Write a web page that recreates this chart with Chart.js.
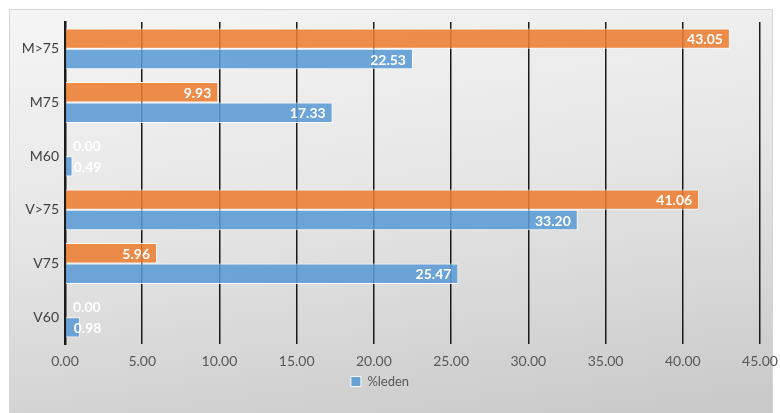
<!DOCTYPE html>
<html>
<head>
<meta charset="utf-8">
<script src="https://cdn.jsdelivr.net/npm/chart.js@4/dist/chart.umd.min.js"></script>
<style>
  html, body { margin: 0; padding: 0; background: #ffffff; }
  #wrap { position: relative; width: 780px; height: 413px; overflow: hidden; }
  #bg { position: absolute; left: 9px; top: 9px; width: 762px; height: 404px;
        background: linear-gradient(172deg, #f5f5f5 0%, #e6e6e6 45%, #c8c8c8 100%);
        border-left: 1px solid #d6d6d6; border-top: 1px solid #d6d6d6; border-right: 1px solid #d6d6d6; }
  #c { position: absolute; left: 0; top: 0; }
</style>
</head>
<body>
<div id="wrap">
  <div id="bg"></div>
  <canvas id="c" width="780" height="413"></canvas>
</div>
<script>
const categories = ["M>75", "M75", "M60", "V>75", "V75", "V60"];
const seriesOrangeLabel = "%bijdrage";
const seriesOrange = [43.05, 9.93, 0.00, 41.06, 5.96, 0.00];
const seriesBlueLabel = "%leden";
const seriesBlue = [22.53, 17.33, 0.49, 33.20, 25.47, 0.98];
const xTicks = [0, 5, 10, 15, 20, 25, 30, 35, 40, 45];

const FONT = "Lato, 'Open Sans', sans-serif";

const valueLabels = {
  id: 'valueLabels',
  afterDatasetsDraw(chart) {
    const ctx = chart.ctx;
    ctx.save();
    ctx.font = "bold 14px " + FONT;
    ctx.fillStyle = "#ffffff";
    ctx.textBaseline = "middle";
    chart.data.datasets.forEach((ds, di) => {
      const meta = chart.getDatasetMeta(di);
      meta.data.forEach((el, i) => {
        const txt = Number(ds.data[i]).toFixed(2);
        const w = ctx.measureText(txt).width;
        const barW = el.x - el.base;
        if (barW > w + 14) {
          ctx.textAlign = "right";
          ctx.fillText(txt, el.x - 7, el.y + 1);
        } else {
          ctx.textAlign = "left";
          ctx.fillText(txt, el.base + 8, el.y + 1);
        }
      });
    });
    ctx.restore();
  }
};

new Chart(document.getElementById('c'), {
  type: 'bar',
  data: {
    labels: categories,
    datasets: [
      { label: seriesOrangeLabel, data: seriesOrange,
        backgroundColor: 'rgba(237,125,49,0.88)', borderColor: 'rgba(255,255,255,0.9)', borderWidth: 1 },
      { label: seriesBlueLabel, data: seriesBlue,
        backgroundColor: 'rgba(91,155,213,0.88)', borderColor: 'rgba(255,255,255,0.9)', borderWidth: 1 }
    ]
  },
  options: {
    indexAxis: 'y',
    responsive: false,
    animation: false,
    layout: { padding: { left: 0, right: 20, top: 22, bottom: 15 } },
    datasets: { bar: { categoryPercentage: 0.76, barPercentage: 1.0 } },
    scales: {
      x: {
        min: 0, max: 45,
        afterBuildTicks(scale) { scale.ticks = xTicks.map(v => ({ value: v })); },
        ticks: { callback: v => Number(v).toFixed(2), color: '#595959', font: { family: FONT, size: 14 }, padding: 9 },
        grid: { color: '#1a1a1a', lineWidth: 1.5, drawTicks: false },
        border: { display: false },
        afterFit(scale) { scale.height = 27; scale.paddingRight = 0; scale.paddingLeft = 0; }
      },
      y: {
        ticks: { color: '#404040', font: { family: FONT, size: 14 }, padding: 6 },
        grid: { display: false, drawTicks: false },
        border: { display: true, color: '#1a1a1a', width: 2.5 },
        afterFit(scale) { scale.width = 65; scale.paddingTop = 0; scale.paddingBottom = 0; }
      }
    },
    plugins: {
      legend: {
        position: 'bottom',
        labels: {
          filter: item => item.datasetIndex === 1,
          boxWidth: 10, boxHeight: 10, padding: 4,
          color: '#595959', font: { family: FONT, size: 13 }
        }
      },
      tooltip: { enabled: false }
    }
  },
  plugins: [valueLabels]
});
</script>
</body>
</html>
